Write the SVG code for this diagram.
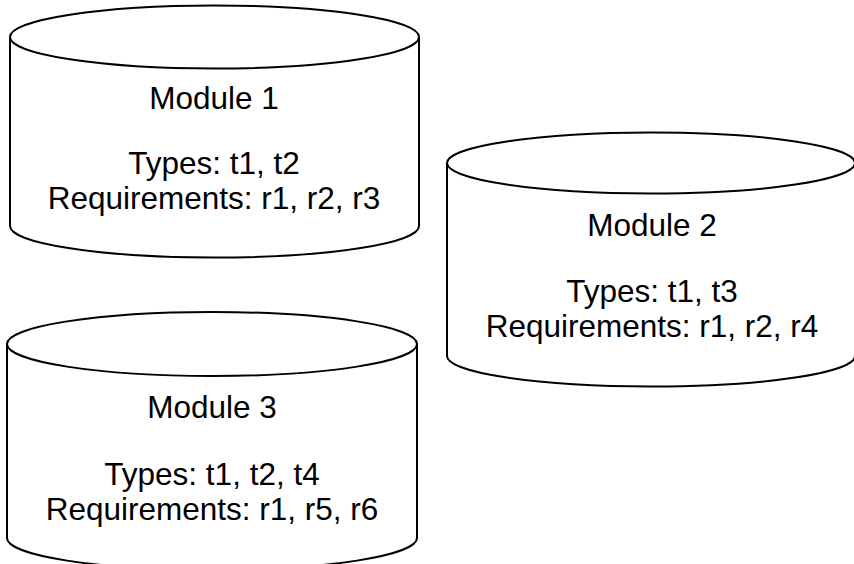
<svg xmlns="http://www.w3.org/2000/svg" width="854" height="564" viewBox="0 0 854 564">
  <style>
    .body { fill: #ffffff; stroke: #000000; stroke-width: 2; }
    .rim { fill: none; stroke: #000000; stroke-width: 2; }
    .label { font-family: "Liberation Sans", Arial, sans-serif; font-size: 31.5px; fill: #000000; text-anchor: middle; }
  </style>
  <rect width="854" height="564" fill="#ffffff"/>

  <!-- Module 1 store -->
  <g id="module1">
    <path class="body" d="M10,37 L10,226 A204.5,31.5 0 0 0 419,226 L419,37 A204.5,31.5 0 0 0 10,37 Z"/>
    <path class="rim" d="M10,37 A204.5,31.5 0 0 0 419,37"/>
    <text class="label" x="214" y="109">Module 1</text>
    <text class="label" x="214" y="174">Types: t1, t2</text>
    <text class="label" x="214" y="209">Requirements: r1, r2, r3</text>
  </g>

  <!-- Module 2 store -->
  <g id="module2">
    <path class="body" d="M447,163 L447,356 A204,30.5 0 0 0 855,356 L855,163 A204,30.5 0 0 0 447,163 Z"/>
    <path class="rim" d="M447,163 A204,30.5 0 0 0 855,163"/>
    <text class="label" x="652" y="236">Module 2</text>
    <text class="label" x="652" y="302">Types: t1, t3</text>
    <text class="label" x="652" y="337">Requirements: r1, r2, r4</text>
  </g>

  <!-- Module 3 store -->
  <g id="module3">
    <path class="body" d="M7,344 L7,538 A205,32 0 0 0 417,538 L417,344 A205,32 0 0 0 7,344 Z"/>
    <path class="rim" d="M7,344 A205,32 0 0 0 417,344"/>
    <text class="label" x="212" y="418">Module 3</text>
    <text class="label" x="212" y="485">Types: t1, t2, t4</text>
    <text class="label" x="212" y="520">Requirements: r1, r5, r6</text>
  </g>

  <g id="connectors"></g>
</svg>
